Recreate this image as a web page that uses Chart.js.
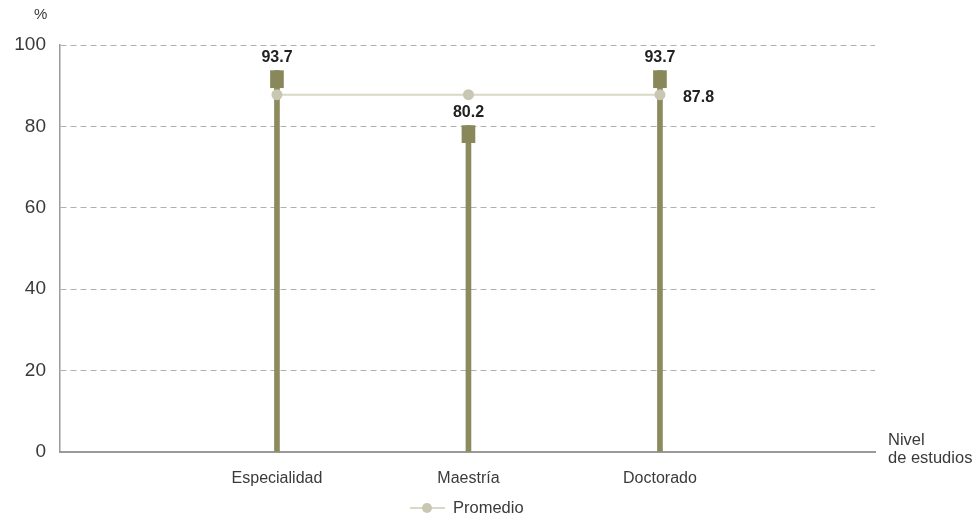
<!DOCTYPE html>
<html>
<head>
<meta charset="utf-8">
<script src="https://cdn.jsdelivr.net/npm/chart.js"></script>
<style>
  html, body { margin: 0; padding: 0; background: #fff; }
  #wrap { width: 980px; height: 520px; position: relative; }
</style>
</head>
<body>
<div id="wrap"><canvas id="myChart" width="980" height="520"></canvas></div>
<script>
// data
const categories = ['Especialidad', 'Maestría', 'Doctorado'];
const values = [93.7, 80.2, 93.7];
const average = [87.8, 87.8, 87.8];
const yTicks = [0, 20, 40, 60, 80, 100];
const legendLabel = 'Promedio';

const stemColor = '#8b8b5e';
const capColor = '#88885a';
const avgLine = '#d9d7c6';
const avgPoint = '#c9c7b2';
const textColor = '#3a3a3a';
const font = "'Liberation Sans', Arial, sans-serif";
const capDepth = 4.2; // cap height in axis units (about 17px)

const stems = values.map((v, i) => ({ x: i + 1, y: [0, v] }));
const caps = values.map((v, i) => ({ x: i + 1, y: [v - capDepth, v] }));
const avgPts = average.map((v, i) => ({ x: i + 1, y: v }));

// value labels, legend and axis captions
const extras = {
  id: 'extras',
  afterDatasetsDraw(chart) {
    const ctx = chart.ctx;
    ctx.save();
    ctx.fillStyle = '#222';
    ctx.font = 'bold 16px ' + font;
    ctx.textAlign = 'center';
    ctx.textBaseline = 'middle';
    chart.getDatasetMeta(1).data.forEach((el, i) => {
      ctx.fillText(values[i].toFixed(1), el.x, el.y - 13);
    });
    // average label beside last point
    const avgMeta = chart.getDatasetMeta(2).data;
    const last = avgMeta[avgMeta.length - 1];
    ctx.textAlign = 'left';
    ctx.fillText(average[average.length - 1].toFixed(1), last.x + 23, last.y + 3);

    ctx.font = '15px ' + font;
    ctx.fillStyle = textColor;
    ctx.fillText('%', 34, 15);
    ctx.font = '16.5px ' + font;
    ctx.fillText('Nivel', 888, 440);
    ctx.fillText('de estudios', 888, 458);

    // legend
    const ly = 508;
    ctx.strokeStyle = avgLine;
    ctx.lineWidth = 2;
    ctx.beginPath();
    ctx.moveTo(410, ly);
    ctx.lineTo(445, ly);
    ctx.stroke();
    ctx.fillStyle = avgPoint;
    ctx.beginPath();
    ctx.arc(427, ly, 5, 0, Math.PI * 2);
    ctx.fill();
    ctx.fillStyle = textColor;
    ctx.fillText(legendLabel, 453, ly);
    ctx.restore();
  }
};

new Chart(document.getElementById('myChart').getContext('2d'), {
  type: 'bar',
  data: {
    datasets: [
      { data: stems, backgroundColor: stemColor, barThickness: 5, order: 3 },
      { data: caps, backgroundColor: capColor, barThickness: 13, order: 2 },
      {
        type: 'line', data: avgPts, borderColor: avgLine, borderWidth: 2,
        pointBackgroundColor: avgPoint, pointBorderWidth: 0, pointRadius: 5.5, order: 1
      }
    ]
  },
  options: {
    responsive: false,
    animation: false,
    datasets: { bar: { grouped: false } },
    layout: { padding: { left: 0, right: 105, top: 45, bottom: 0 } },
    plugins: { legend: { display: false }, tooltip: { enabled: false } },
    scales: {
      x: {
        type: 'linear',
        offset: false,
        min: -0.133,
        max: 4.123,
        grid: { display: false, offset: false },
        border: { color: '#9a9a9a', width: 2 },
        afterBuildTicks: s => { s.ticks = categories.map((c, i) => ({ value: i + 1 })); },
        afterFit: s => { s.height = 68; },
        ticks: {
          callback: v => categories[v - 1] || '',
          color: textColor, font: { family: font, size: 16 }, padding: 9, maxRotation: 0
        }
      },
      y: {
        min: 0,
        max: 100,
        afterBuildTicks: s => { s.ticks = yTicks.map(v => ({ value: v })); },
        afterFit: s => { s.width = 60; },
        grid: { color: '#b0b0b0', lineWidth: 1, drawTicks: false },
        border: { color: '#9a9a9a', width: 1.5, dash: [6, 4] },
        ticks: { color: textColor, font: { family: font, size: 19 }, padding: 14 }
      }
    }
  },
  plugins: [extras]
});
</script>
</body>
</html>
